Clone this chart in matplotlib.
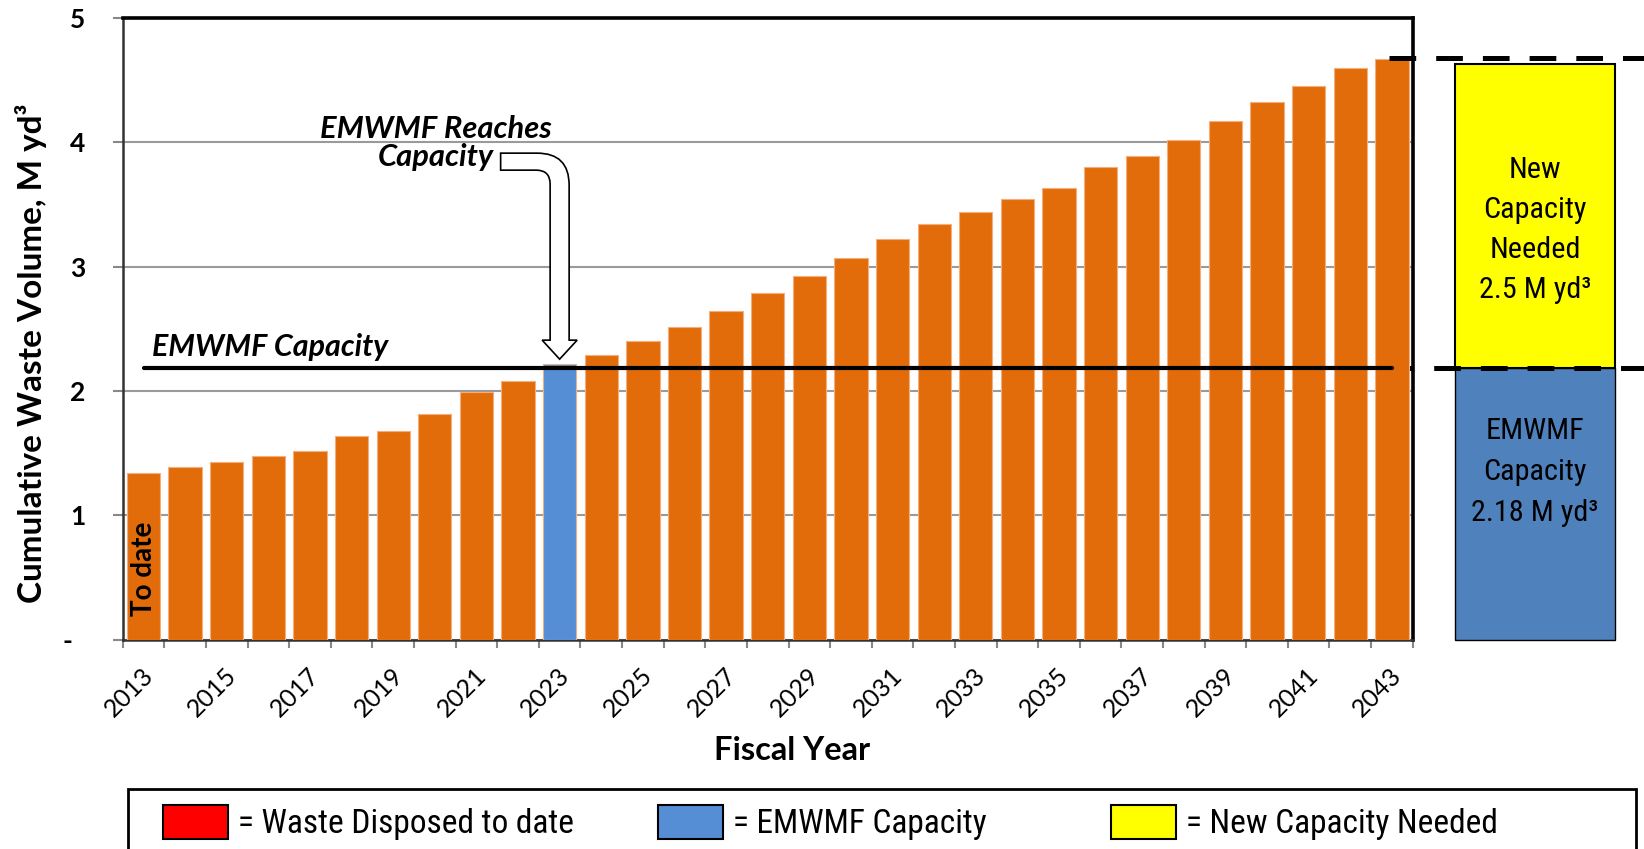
import numpy as np
import matplotlib
matplotlib.use("Agg")
import matplotlib.pyplot as plt
from matplotlib.patches import Rectangle, PathPatch
from matplotlib.path import Path
from matplotlib.lines import Line2D
from matplotlib import font_manager as fm
from matplotlib.font_manager import FontProperties
import matplotlib.transforms as mtransforms

# ---------------- data ----------------
years = list(range(2013, 2044))
volumes = [1.34, 1.385, 1.43, 1.478, 1.52, 1.634, 1.677, 1.815, 1.995, 2.08,
           2.215,
           2.29, 2.40, 2.51, 2.646, 2.79, 2.92, 3.07, 3.22, 3.34, 3.44,
           3.545, 3.63, 3.80, 3.89, 4.02, 4.17, 4.32, 4.455, 4.60, 4.67]
capacity_year = 2023
emwmf_capacity = 2.18
new_capacity_needed = 2.5
box_top = 4.63
yticks = [0, 1, 2, 3, 4, 5]
ytick_labels = ['-  ', '1', '2', '3', '4', '5']
xtick_years = years[::2]
legend_labels = ['= Waste Disposed to date', '= EMWMF Capacity', '= New Capacity Needed']
legend_colors = ['#FF0000', '#558ED5', '#FFFF00']
box_labels = ['EMWMF\nCapacity\n2.18 M yd\u00b3', 'New\nCapacity\nNeeded\n2.5 M yd\u00b3']


# ---------------- condensed font for legend / box text ----------------
def pick_condensed():
    names = {f.name for f in fm.fontManager.ttflist}
    for cand in ['Liberation Sans Narrow', 'Arial Narrow', 'Roboto Condensed',
                 'Open Sans Condensed', 'DejaVu Sans Condensed', 'Noto Sans Condensed']:
        if cand in names:
            return FontProperties(family=cand)
    for fam in ['Roboto', 'Open Sans', 'DejaVu Sans', 'Noto Sans', 'Inter']:
        for f in fm.fontManager.ttflist:
            st = f.stretch
            if f.name == fam and (st in ('condensed', 'semi-condensed', 'extra-condensed')
                                  or (isinstance(st, (int, float)) and st < 500)):
                return FontProperties(family=fam, stretch='condensed')
    return FontProperties(family='Liberation Sans')


cond_fp = pick_condensed()

# ---------------- figure ----------------
W, H = 1644, 849
fig = plt.figure(figsize=(W / 100, H / 100), dpi=100)


def fx(x):
    return x / W


def fy(y):
    return 1 - y / H


AX_L, AX_R, AX_T, AX_B = 122.7, 1412.7, 17.8, 639.6
ax = fig.add_axes([fx(AX_L), fy(AX_B), (AX_R - AX_L) / W, (AX_B - AX_T) / H])
ax.set_zorder(1)

bar_colors = ['#558ED5' if y == capacity_year else '#E36C0A' for y in years]
ax.bar(years, volumes, width=0.8, color=bar_colors, edgecolor='#F3B07E',
       linewidth=0.8, zorder=3)
ax.set_xlim(years[0] - 0.5, years[-1] + 0.5)
ax.set_ylim(0, 5)

ax.set_yticks(yticks)
ax.set_yticklabels(ytick_labels)
ax.yaxis.grid(True, color='#9a9a9a', lw=1.5, zorder=0)
ax.set_axisbelow(True)

ax.set_xticks([y - 0.05 for y in xtick_years])
ax.set_xticklabels([str(y) for y in xtick_years], rotation=45, ha='right', va='top',
                   rotation_mode='anchor', fontsize=18, family='Lato')
ax.tick_params(axis='x', which='major', length=0, pad=17)
ax.set_xticks(np.arange(years[0] - 0.5, years[-1] + 1.0, 1.0), minor=True)
ax.tick_params(axis='x', which='minor', length=6, width=1.5, color='#888888')
ax.tick_params(axis='y', length=7, width=1.5, color='#888888', pad=20, labelsize=19)
for lab in ax.get_yticklabels():
    lab.set_fontweight('bold')
    lab.set_family('Lato')

ax.spines['top'].set(color='black', lw=2.6)
ax.spines['right'].set(color='black', lw=2.6)
ax.spines['left'].set(color='#333333', lw=1.8)
ax.spines['bottom'].set(color='#333333', lw=1.8)

# capacity line
ax.plot([years[0], years[-1]], [emwmf_capacity, emwmf_capacity], color='black', lw=3,
        solid_capstyle='round', zorder=4)

# annotations
t_cap = ax.text(2013.2, 2.28, 'EMWMF Capacity', ha='left', va='baseline', fontsize=21,
                fontweight='bold', style='italic', family='Lato', zorder=6)
t_reach = ax.text(2020.03, 3.99, 'EMWMF Reaches\nCapacity', ha='center', va='center', fontsize=21,
                  fontweight='bold', style='italic', family='Lato', linespacing=1.0, zorder=6)
ax.text(years[0], 0.19, 'To date', rotation=90, ha='center', va='bottom', fontsize=20,
        fontweight='bold', family='Lato', zorder=6)

# hollow bent arrow (pixel offsets relative to the top of the capacity-year bar)
sw, hw, hl, top, bot, x0, ro, ri, lift = 9.5, 17.5, 19, 206, 189, -59, 32, 14, 5
verts = [(x0, top), (sw - ro, top), (sw, top), (sw, top - ro), (sw, hl), (hw, hl), (0, 0),
         (-hw, hl), (-sw, hl), (-sw, bot - ri), (-sw, bot), (-sw - ri, bot), (x0, bot), (x0, top)]
codes = [Path.MOVETO, Path.LINETO, Path.CURVE3, Path.CURVE3, Path.LINETO, Path.LINETO, Path.LINETO,
         Path.LINETO, Path.LINETO, Path.LINETO, Path.CURVE3, Path.CURVE3, Path.LINETO, Path.CLOSEPOLY]
verts = [(vx, vy + lift) for vx, vy in verts]
tip_val = volumes[years.index(capacity_year)]
arrow_tr = mtransforms.Affine2D() + mtransforms.ScaledTranslation(capacity_year, tip_val, ax.transData)
ax.add_artist(PathPatch(Path(verts, codes), transform=arrow_tr, facecolor='white',
                        edgecolor='black', lw=1.2, zorder=6, clip_on=False))

# dashed reference lines extending to the right
bt = mtransforms.blended_transform_factory(fig.transFigure, ax.transData)
ax.add_artist(Line2D([fx(1389), 1.0], [emwmf_capacity + new_capacity_needed] * 2, transform=bt,
                     color='black', lw=3.6, dashes=(5.34, 4), dash_capstyle='butt',
                     zorder=5, clip_on=False))
ax.add_artist(Line2D([fx(1386.7), 1.0], [emwmf_capacity] * 2, transform=bt,
                     color='black', lw=3.6, dashes=(5.34, 4), dash_capstyle='butt',
                     zorder=2, clip_on=False))

# right-hand capacity box
ax2 = fig.add_axes([fx(1455), fy(AX_B), (1615 - 1455) / W, (AX_B - AX_T) / H])
ax2.set_zorder(0)
ax2.set_xlim(0, 1)
ax2.set_ylim(0, 5)
ax2.axis('off')
ax2.bar(0.5, emwmf_capacity, width=1, color='#4F81BD', edgecolor='black', lw=1, clip_on=False)
ax2.bar(0.5, box_top - emwmf_capacity, bottom=emwmf_capacity, width=1, color='#FFFF00',
        edgecolor='black', lw=1.5, clip_on=False)
t_box_blue = ax2.text(0.5, 1.35, box_labels[0], ha='center', va='center',
                      fontproperties=cond_fp, fontsize=22, linespacing=1.4)
t_box_yel = ax2.text(0.5, 3.29, box_labels[1], ha='center', va='center',
                     fontproperties=cond_fp, fontsize=22, linespacing=1.4)

# axis titles
t_ylab = fig.text(fx(31), fy(353), 'Cumulative Waste Volume, M yd\u00b3', rotation=90, ha='center',
                  va='center', fontsize=24, fontweight='bold', family='Lato')
t_xlab = fig.text(fx(791.6), fy(751), 'Fiscal Year', ha='center', va='center', fontsize=23,
                  fontweight='bold', family='Lato')

# legend box
fig.add_artist(Rectangle((fx(128), fy(880)), fx(1636) - fx(128), (880 - 788.5) / H,
                         transform=fig.transFigure, fill=False, ec='black', lw=2))
legend_sq_x = [162.5, 658, 1111]
leg_texts = []
for sx, lab, col in zip(legend_sq_x, legend_labels, legend_colors):
    fig.add_artist(Rectangle((fx(sx), fy(839)), 65 / W, 34 / H, transform=fig.transFigure,
                             fc=col, ec='black', lw=1.5))
    leg_texts.append(fig.text(fx(sx + 75), fy(824), lab, ha='left', va='center',
                              fontproperties=cond_fp, fontsize=22))


# ---------------- fit text sizes to the reference extents ----------------
def extent(t, dim):
    r = fig.canvas.get_renderer()
    bb = t.get_window_extent(r)
    return bb.width if dim == 'w' else bb.height


def fit(t, target, dim='w'):
    cur = extent(t, dim)
    if cur > 0:
        t.set_fontsize(t.get_fontsize() * target / cur)


def fit_spacing(t, target_h):
    t.set_linespacing(1.0)
    h1 = extent(t, 'h')
    t.set_linespacing(2.0)
    h2 = extent(t, 'h')
    if h2 != h1:
        t.set_linespacing(1.0 + (target_h - h1) / (h2 - h1))


fig.canvas.draw()
fit(t_ylab, 500, 'h')
fit(t_xlab, 157, 'w')
fit(t_reach, 231, 'w')
fit(t_cap, 236, 'w')
fit(leg_texts[0], 336, 'w')
for t in leg_texts[1:]:
    t.set_fontsize(leg_texts[0].get_fontsize())
fit(t_box_blue, 127, 'w')
fit(t_box_yel, 112, 'w')
fit_spacing(t_box_blue, 2 * 38 + 34)
fit_spacing(t_box_yel, 3 * 38 + 34)

fig.savefig('out.png', dpi=100)
